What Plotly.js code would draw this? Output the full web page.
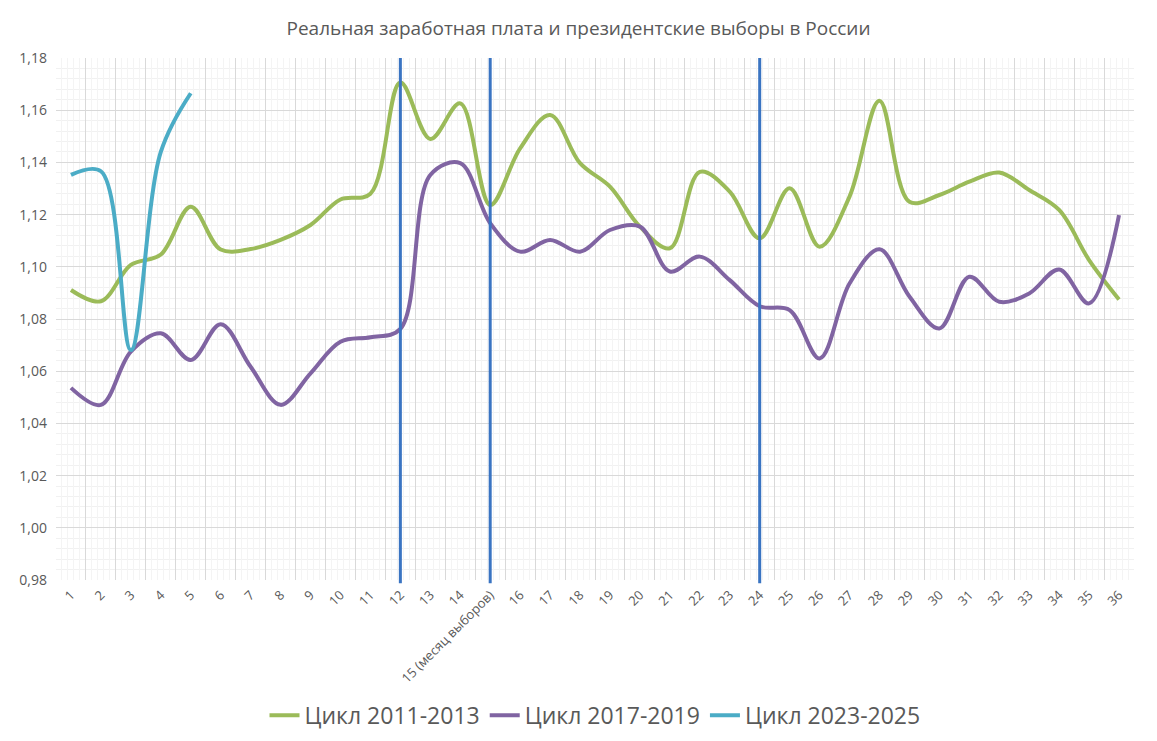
<!DOCTYPE html>
<html>
<head>
<meta charset="utf-8">
<script src="https://cdn.plot.ly/plotly-3.0.1.min.js"></script>
<style>
  html, body { margin: 0; padding: 0; background: #fff; }
  #chart { width: 1157px; height: 741px; }
</style>
</head>
<body>
<div id="chart"></div>
<script>
// months of the cycle, 15th is the election month
const months = [];
for (let m = 1; m <= 36; m++) months.push(m);
const monthLabels = months.map((m) => (m === 15 ? "15 (месяц выборов)" : String(m)));

const cycle2011 = [
  1.0911, 1.0868, 1.1007, 1.1047, 1.1230, 1.1066, 1.1068, 1.1103, 1.1160, 1.1258,
  1.1280, 1.1706, 1.1490, 1.1626, 1.1237, 1.1454, 1.1582, 1.1397, 1.1307, 1.1154,
  1.1071, 1.1364, 1.1288, 1.1109, 1.1301, 1.1077, 1.1269, 1.1636, 1.1249, 1.1275,
  1.1326, 1.1361, 1.1294, 1.1218, 1.1026, 1.0875
];
const cycle2017 = [
  1.0536, 1.0471, 1.0675, 1.0745, 1.0643, 1.0780, 1.0617, 1.0471, 1.0592, 1.0713,
  1.0730, 1.0762, 1.1352, 1.1397, 1.1167, 1.1058, 1.1103, 1.1058, 1.1141, 1.1154,
  1.0982, 1.1039, 1.0949, 1.0849, 1.0834, 1.0649, 1.0936, 1.1067, 1.0886, 1.0764,
  1.0962, 1.0866, 1.0898, 1.0990, 1.0860, 1.1198
];
const cycle2023 = [1.1352, 1.1366, 1.0681, 1.1440, 1.1665];

const electionLines = [12, 15, 24];

const seriesNames = ["Цикл 2011-2013", "Цикл 2017-2019", "Цикл 2023-2025"];
const seriesColors = ["#9BBB59", "#8064A2", "#4BACC6"];
const seriesValues = [cycle2011, cycle2017, cycle2023];

const textColor = "#595959";
const font = "Open Sans, Noto Sans, sans-serif";

const data = seriesValues.map((vals, i) => ({
  x: months.slice(0, vals.length),
  y: vals,
  name: seriesNames[i],
  type: "scatter",
  mode: "lines",
  line: { color: seriesColors[i], width: 4, shape: "spline", smoothing: 1 },
  hoverinfo: "x+y"
}));

// invisible helper so the grid axis (category boundaries) gets drawn
data.unshift({
  x: months,
  y: cycle2011,
  xaxis: "x2",
  type: "scatter",
  mode: "lines",
  opacity: 0,
  showlegend: false,
  hoverinfo: "skip"
});

const shapes = electionLines.map((m) => ({
  type: "line",
  xref: "x",
  yref: "paper",
  x0: m, x1: m,
  y0: -0.006, y1: 1,
  line: { color: "#3A74C2", width: 3 },
  layer: "above"
}));

const layout = {
  width: 1157,
  height: 741,
  margin: { l: 56, r: 23, t: 58, b: 161, autoexpand: false },
  paper_bgcolor: "#fff",
  plot_bgcolor: "#fff",
  separators: ", ",
  font: { family: font, color: textColor },
  title: {
    text: "Реальная заработная плата и президентские выборы в России",
    font: { size: 19, color: textColor, family: font },
    x: 0.5,
    xanchor: "center",
    y: 0.962,
    yanchor: "middle"
  },
  showlegend: true,
  legend: {
    orientation: "h",
    x: 0.5,
    xanchor: "center",
    y: -0.259,
    yanchor: "middle",
    font: { size: 23, color: textColor, family: font },
    itemwidth: 30,
    tracegroupgap: 0
  },
  xaxis: {
    type: "linear",
    range: [0.5, 36.5],
    tickvals: months,
    ticktext: monthLabels,
    tickangle: -45,
    tickfont: { size: 13, color: textColor },
    showgrid: false,
    zeroline: false,
    showline: false,
    ticks: "",
    ticklabelstandoff: 4,
    automargin: false,
    fixedrange: true
  },
  xaxis2: {
    overlaying: "x",
    anchor: "y",
    type: "linear",
    range: [0.5, 36.5],
    tick0: 0.5,
    dtick: 1,
    showticklabels: false,
    showgrid: true,
    gridcolor: "#d9d9d9",
    gridwidth: 1,
    minor: { dtick: 0.2, tick0: 0.5, showgrid: true, gridcolor: "#f4f4f4", gridwidth: 1 },
    zeroline: false,
    ticks: "",
    automargin: false,
    fixedrange: true
  },
  yaxis: {
    range: [0.98, 1.18],
    dtick: 0.02,
    tick0: 0.98,
    tickformat: ".2f",
    tickfont: { size: 14, color: textColor },
    showgrid: true,
    gridcolor: "#d9d9d9",
    gridwidth: 1,
    minor: { dtick: 0.004, showgrid: true, gridcolor: "#f1f1f1", gridwidth: 1 },
    zeroline: false,
    showline: false,
    ticks: "",
    ticklabelstandoff: 8,
    automargin: false,
    fixedrange: true
  },
  shapes: shapes
};

Plotly.newPlot("chart", data, layout, { displayModeBar: false, staticPlot: true });
</script>
</body>
</html>
